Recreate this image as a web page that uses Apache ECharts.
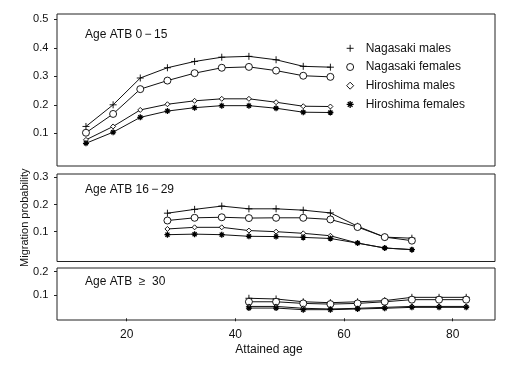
<!DOCTYPE html>
<html><head><meta charset="utf-8">
<script src="https://cdn.jsdelivr.net/npm/echarts@6/dist/echarts.min.js"></script>
<style>html,body{margin:0;padding:0;background:#fff}#c{width:508px;height:368px}</style>
</head><body><div id="c"></div>
<script>
// ---- data ----
const agesP1 = [12.5,17.5,22.5,27.5,32.5,37.5,42.5,47.5,52.5,57.5];
const agesP2 = [27.5,32.5,37.5,42.5,47.5,52.5,57.5,62.5,67.5,72.5];
const agesP3 = [42.5,47.5,52.5,57.5,62.5,67.5,72.5,77.5,82.5];

const p1NagasakiMales   = [0.124,0.200,0.294,0.330,0.352,0.367,0.370,0.358,0.335,0.332];
const p1NagasakiFemales = [0.102,0.168,0.255,0.285,0.311,0.330,0.333,0.320,0.302,0.298];
const p1HiroshimaMales  = [0.077,0.124,0.182,0.202,0.214,0.221,0.221,0.209,0.195,0.194];
const p1HiroshimaFemales= [0.065,0.104,0.156,0.178,0.190,0.197,0.197,0.188,0.174,0.173];

const p2NagasakiMales   = [0.168,0.182,0.194,0.184,0.184,0.179,0.169,0.120,0.080,0.076];
const p2NagasakiFemales = [0.141,0.151,0.153,0.150,0.151,0.151,0.145,0.117,0.080,0.067];
const p2HiroshimaMales  = [0.110,0.116,0.116,0.104,0.100,0.094,0.085,0.058,0.040,0.034];
const p2HiroshimaFemales= [0.089,0.091,0.089,0.083,0.082,0.079,0.075,0.058,0.040,0.034];

const p3NagasakiMales   = [0.086,0.083,0.071,0.067,0.071,0.076,0.090,0.090,0.090];
const p3NagasakiFemales = [0.071,0.071,0.064,0.061,0.064,0.071,0.080,0.080,0.080];
const p3HiroshimaMales  = [0.051,0.051,0.043,0.040,0.043,0.047,0.051,0.051,0.051];
const p3HiroshimaFemales= [0.044,0.044,0.037,0.037,0.040,0.043,0.047,0.047,0.047];

const seriesNames = ['Nagasaki males','Nagasaki females','Hiroshima males','Hiroshima females'];
const panelTitles = ['Age ATB 0\u2009\u2212\u200915','Age ATB 16\u2009\u2212\u200929','Age ATB  \u2265  30'];
const p1Ticks = [0.1,0.2,0.3,0.4,0.5];
const p2Ticks = [0.1,0.2,0.3];
const p3Ticks = [0.1,0.2];
const xTicks = [20,40,60,80];

// ---- styles ----
const FONT = 'Liberation Sans, Arial, sans-serif';
const PLUS = 'path://M0,5L10,5M5,0L5,10';
const STAR = 'path://M0,5L10,5M5,0L5,10M1.6,1.6L8.4,8.4M8.4,1.6L1.6,8.4';
const symbolDefs = [
  {symbol: PLUS, size: 7, bw: 0.9},
  {symbol: 'circle', size: 7, bw: 0.9},
  {symbol: 'diamond', size: 5, bw: 0.9},
  {symbol: STAR, size: 6, bw: 1.3}
];

const panels = [
  {ages: agesP1, data: [p1NagasakiMales,p1NagasakiFemales,p1HiroshimaMales,p1HiroshimaFemales], ticks: p1Ticks, min: -0.0147, max: 0.5186},
  {ages: agesP2, data: [p2NagasakiMales,p2NagasakiFemales,p2HiroshimaMales,p2HiroshimaFemales], ticks: p2Ticks, min: -0.0096, max: 0.312},
  {ages: agesP3, data: [p3NagasakiMales,p3NagasakiFemales,p3HiroshimaMales,p3HiroshimaFemales], ticks: p3Ticks, min: -0.0073, max: 0.216}
];
const gridTops = [14, 174, 268];
const gridHeights = [152, 87.5, 52];

const grids = [], xAxes = [], yAxes = [], series = [], titles = [];
panels.forEach((p, i) => {
  grids.push({left: 57, right: 13, top: gridTops[i], height: gridHeights[i], show: true, borderColor: '#222', borderWidth: 1, backgroundColor: 'transparent'});
  const isBottom = i === 2;
  xAxes.push({
    type: 'value', gridIndex: i, min: 7.17, max: 87.8,
    axisLine: {show: false}, splitLine: {show: false},
    axisTick: {show: isBottom, length: 3, lineStyle: {color: '#222'}, customValues: xTicks},
    axisLabel: {show: isBottom, margin: 8.5, fontSize: 12, color: '#111', fontFamily: FONT, customValues: xTicks}
  });
  yAxes.push({
    type: 'value', gridIndex: i, min: p.min, max: p.max,
    axisLine: {show: false}, splitLine: {show: false},
    axisTick: {show: true, length: 3, lineStyle: {color: '#222'}, customValues: p.ticks},
    axisLabel: {margin: 8.7, fontSize: 11, color: '#111', fontFamily: FONT, customValues: p.ticks, formatter: v => v.toFixed(1)},
    name: i === 1 ? 'Migration probability' : '',
    nameLocation: 'middle', nameGap: 27, nameRotate: 90, nameMoveOverlap: false,
    nameTextStyle: {fontSize: 11, color: '#111', fontFamily: FONT}
  });
  p.data.forEach((vals, k) => {
    const sd = symbolDefs[k];
    series.push({
      type: 'line', name: seriesNames[k], xAxisIndex: i, yAxisIndex: i,
      data: p.ages.map((a, j) => [a, vals[j]]),
      symbol: sd.symbol, symbolSize: sd.size, showAllSymbol: true,
      lineStyle: {color: '#111', width: 1},
      itemStyle: {color: '#fff', borderColor: '#000', borderWidth: sd.bw},
      emphasis: {disabled: true}, animation: false, z: 2 + k
    });
  });
  titles.push({text: panelTitles[i], left: 85, top: [29, 184, 276][i], padding: 0,
    textStyle: {fontSize: 12, fontWeight: 'normal', color: '#111', fontFamily: FONT}});
});

const chart = echarts.init(document.getElementById('c'), null, {renderer: 'canvas'});
chart.setOption({
  backgroundColor: '#fff',
  animation: false,
  title: titles,
  legend: {
    orient: 'vertical', left: 346, top: 41.3, padding: 0,
    itemWidth: 7, itemHeight: 7, itemGap: 4.7,
    selectedMode: false,
    data: seriesNames.map((n, k) => ({
      name: n, icon: symbolDefs[k].symbol,
      itemStyle: {color: '#fff', borderColor: '#000', borderWidth: symbolDefs[k].bw}
    })),
    itemStyle: {color: '#fff', borderColor: '#000', borderWidth: 0.9},
    textStyle: {fontSize: 12, color: '#111', fontFamily: FONT, lineHeight: 14, padding: [0, 0, 0, 7]}
  },
  grid: grids, xAxis: xAxes, yAxis: yAxes, series: series,
  graphic: [
    {type: 'text', x: 269, y: 350, style: {text: 'Attained age', fill: '#111', font: '12px ' + FONT, align: 'center', verticalAlign: 'middle'}}]
});
</script></body></html>
